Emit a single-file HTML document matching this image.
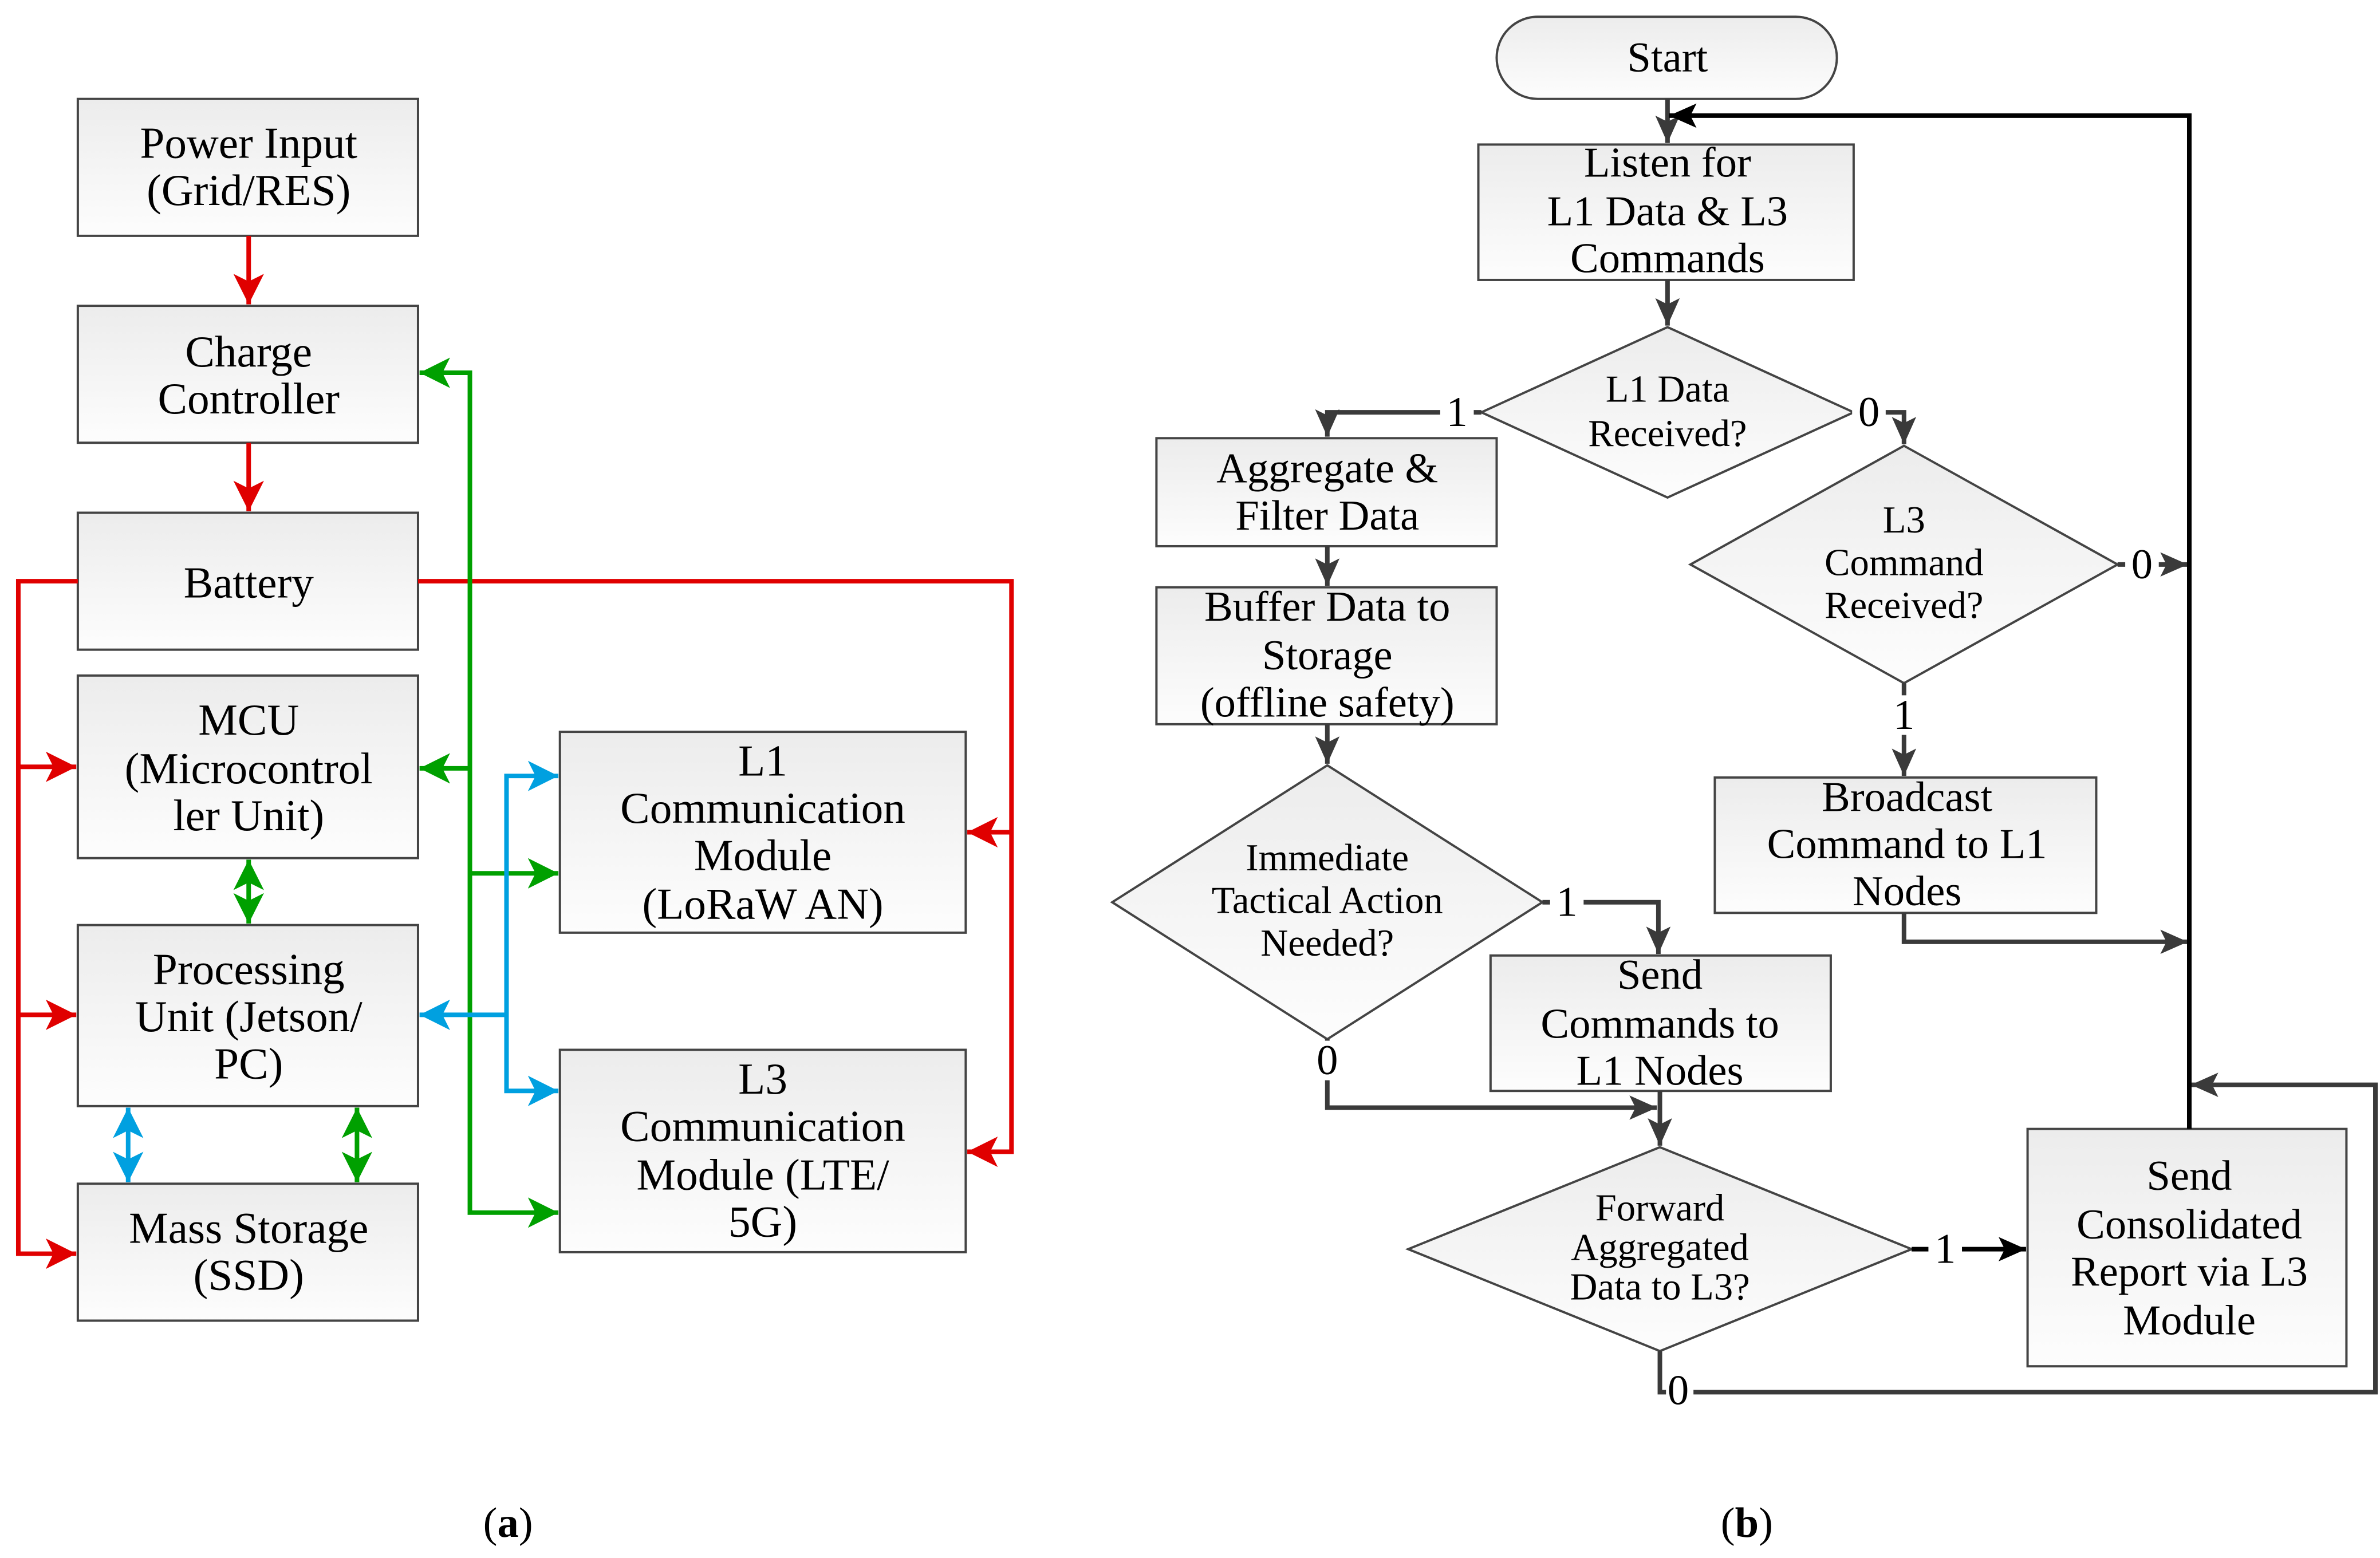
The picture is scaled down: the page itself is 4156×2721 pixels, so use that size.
<!DOCTYPE html>
<html><head><meta charset="utf-8"><style>
html,body{margin:0;padding:0;background:#fff;}
svg{display:block;}
svg text{font-family:"Liberation Serif","DejaVu Serif",serif;fill:#000;}
</style></head><body>
<svg width="4156" height="2721" viewBox="0 0 1560 1024" preserveAspectRatio="none" xmlns="http://www.w3.org/2000/svg" font-family="Liberation Serif, serif">
<defs>
<linearGradient id="g" x1="0" y1="0" x2="0" y2="1"><stop offset="0" stop-color="#ececec"/><stop offset="1" stop-color="#fdfdfd"/></linearGradient>
<marker id="r" markerUnits="userSpaceOnUse" markerWidth="24" markerHeight="24" refX="20" refY="12" orient="auto-start-reverse"><path d="M0,2 L20,12 L0,22 L5,12 Z" fill="#e00000"/></marker>
<marker id="gr" markerUnits="userSpaceOnUse" markerWidth="24" markerHeight="24" refX="20" refY="12" orient="auto-start-reverse"><path d="M0,2 L20,12 L0,22 L5,12 Z" fill="#00a000"/></marker>
<marker id="b" markerUnits="userSpaceOnUse" markerWidth="24" markerHeight="24" refX="20" refY="12" orient="auto-start-reverse"><path d="M0,2 L20,12 L0,22 L5,12 Z" fill="#00a0e0"/></marker>
<marker id="k" markerUnits="userSpaceOnUse" markerWidth="24" markerHeight="24" refX="18" refY="10" orient="auto-start-reverse"><path d="M0,2 L18,10 L0,18 L4,10 Z" fill="#3a3a3a"/></marker>
<marker id="kk" markerUnits="userSpaceOnUse" markerWidth="24" markerHeight="24" refX="18" refY="10" orient="auto-start-reverse"><path d="M0,2 L18,10 L0,18 L4,10 Z" fill="#000"/></marker>
</defs>

<g stroke="#444" stroke-width="1.5" fill="url(#g)">
<rect x="51" y="65" width="223" height="90"/>
<rect x="51" y="201" width="223" height="90"/>
<rect x="51" y="337" width="223" height="90"/>
<rect x="51" y="444" width="223" height="120"/>
<rect x="51" y="608" width="223" height="119"/>
<rect x="51" y="778" width="223" height="90"/>
<rect x="367" y="481" width="266" height="132"/>
<rect x="367" y="690" width="266" height="133"/>
</g>

<g fill="none" stroke-width="3">
<line x1="163" y1="155" x2="163" y2="200" stroke="#e00000" marker-end="url(#r)"/>
<line x1="163" y1="291" x2="163" y2="336" stroke="#e00000" marker-end="url(#r)"/>
<polyline points="51,382 12,382 12,824 50,824" stroke="#e00000" marker-end="url(#r)"/>
<line x1="12" y1="504" x2="50" y2="504" stroke="#e00000" marker-end="url(#r)"/>
<line x1="12" y1="667" x2="50" y2="667" stroke="#e00000" marker-end="url(#r)"/>
<polyline points="274,382 663,382 663,757 634,757" stroke="#e00000" marker-end="url(#r)"/>
<line x1="663" y1="547" x2="634" y2="547" stroke="#e00000" marker-end="url(#r)"/>

<polyline points="275,245 308,245 308,797 366,797" stroke="#00a000" marker-start="url(#gr)" marker-end="url(#gr)"/>
<line x1="308" y1="505" x2="275" y2="505" stroke="#00a000" marker-end="url(#gr)"/>
<line x1="308" y1="574" x2="366" y2="574" stroke="#00a000" marker-end="url(#gr)"/>
<line x1="163" y1="565" x2="163" y2="607" stroke="#00a000" marker-start="url(#gr)" marker-end="url(#gr)"/>
<line x1="234" y1="728" x2="234" y2="777" stroke="#00a000" marker-start="url(#gr)" marker-end="url(#gr)"/>

<polyline points="366,510 332,510 332,717 366,717" stroke="#00a0e0" marker-start="url(#b)" marker-end="url(#b)"/>
<line x1="332" y1="667" x2="275" y2="667" stroke="#00a0e0" marker-end="url(#b)"/>
<line x1="84" y1="728" x2="84" y2="777" stroke="#00a0e0" marker-start="url(#b)" marker-end="url(#b)"/>
</g>

<g font-size="29" text-anchor="middle" dominant-baseline="central">
<text x="163" y="94">Power Input</text><text x="163" y="125">(Grid/RES)</text>
<text x="163" y="231">Charge</text><text x="163" y="262">Controller</text>
<text x="163" y="383">Battery</text>
<text x="163" y="473">MCU</text><text x="163" y="505">(Microcontrol</text><text x="163" y="536">ler Unit)</text>
<text x="163" y="637">Processing</text><text x="163" y="668">Unit (Jetson/</text><text x="163" y="699">PC)</text>
<text x="163" y="807">Mass Storage</text><text x="163" y="838">(SSD)</text>
<text x="500" y="500">L1</text><text x="500" y="531">Communication</text><text x="500" y="562">Module</text><text x="500" y="594">(LoRaW AN)</text>
<text x="500" y="709">L3</text><text x="500" y="740">Communication</text><text x="500" y="772">Module (LTE/</text><text x="500" y="803">5G)</text>
</g>

<g stroke="#444" stroke-width="1.5" fill="url(#g)">
<rect x="981" y="11" width="223" height="54" rx="27"/>
<rect x="969" y="95" width="246" height="89"/>
<polygon points="1093,215 1215,271 1093,327 971,271"/>
<rect x="758" y="288" width="223" height="71"/>
<rect x="758" y="386" width="223" height="90"/>
<polygon points="870,503 1011,593 870,683 729,593"/>
<rect x="977" y="628" width="223" height="89"/>
<polygon points="1088,754 1253,821 1088,888 923,821"/>
<rect x="1329" y="742" width="209" height="156"/>
<polygon points="1248,293 1388,371 1248,449 1108,371"/>
<rect x="1124" y="511" width="250" height="89"/>
</g>

<g fill="none" stroke="#3a3a3a" stroke-width="3">
<line x1="1093" y1="65" x2="1093" y2="94" marker-end="url(#k)"/>
<line x1="1093" y1="184" x2="1093" y2="214" marker-end="url(#k)"/>
<polyline points="971,271 870,271 870,287" marker-end="url(#k)"/>
<line x1="870" y1="359" x2="870" y2="385" marker-end="url(#k)"/>
<line x1="870" y1="476" x2="870" y2="502" marker-end="url(#k)"/>
<polyline points="1011,593 1087,593 1087,627" marker-end="url(#k)"/>
<polyline points="870,683 870,728 1086,728" marker-end="url(#k)"/>
<line x1="1088" y1="717" x2="1088" y2="753" marker-end="url(#k)"/>
<polyline points="1088,888 1088,915 1557,915 1557,713 1436,713" marker-end="url(#k)"/>
<polyline points="1215,271 1248,271 1248,292" marker-end="url(#k)"/>
<line x1="1388" y1="371" x2="1434" y2="371" marker-end="url(#k)"/>
<line x1="1248" y1="449" x2="1248" y2="510" marker-end="url(#k)"/>
<polyline points="1248,600 1248,619 1434,619" marker-end="url(#k)"/>
</g>
<g fill="none" stroke="#000" stroke-width="3">
<polyline points="1435,742 1435,76 1094,76" marker-end="url(#kk)"/>
<line x1="1253" y1="821" x2="1328" y2="821" marker-end="url(#kk)"/>
</g>

<g font-size="28" text-anchor="middle" dominant-baseline="central">
<rect x="944" y="258" width="22" height="26" fill="#fff"/><text x="955" y="271">1</text>
<rect x="1214" y="258" width="22" height="26" fill="#fff"/><text x="1225" y="271">0</text>
<rect x="1393" y="358" width="22" height="26" fill="#fff"/><text x="1404" y="371">0</text>
<rect x="1237" y="457" width="22" height="26" fill="#fff"/><text x="1248" y="470">1</text>
<rect x="1016" y="580" width="22" height="26" fill="#fff"/><text x="1027" y="593">1</text>
<rect x="859" y="684" width="22" height="26" fill="#fff"/><text x="870" y="697">0</text>
<rect x="1264" y="808" width="22" height="26" fill="#fff"/><text x="1275" y="821">1</text>
<rect x="1092" y="906" width="18" height="20" fill="#fff"/><text x="1100" y="914">0</text>

<text x="1093" y="38">Start</text>
<text x="1093" y="107">Listen for</text><text x="1093" y="139">L1 Data &amp; L3</text><text x="1093" y="170">Commands</text>
<text x="870" y="308">Aggregate &amp;</text><text x="870" y="339">Filter Data</text>
<text x="870" y="399">Buffer Data to</text><text x="870" y="431">Storage</text><text x="870" y="462">(offline safety)</text>
<text x="1088" y="641">Send</text><text x="1088" y="673">Commands to</text><text x="1088" y="704">L1 Nodes</text>
<text x="1435" y="773">Send</text><text x="1435" y="805">Consolidated</text><text x="1435" y="836">Report via L3</text><text x="1435" y="868">Module</text>
<text x="1250" y="524">Broadcast</text><text x="1250" y="555">Command to L1</text><text x="1250" y="586">Nodes</text>
</g>
<g font-size="25" text-anchor="middle" dominant-baseline="central">
<text x="1093" y="256">L1 Data</text><text x="1093" y="285">Received?</text>
<text x="870" y="564">Immediate</text><text x="870" y="592">Tactical Action</text><text x="870" y="620">Needed?</text>
<text x="1088" y="794">Forward</text><text x="1088" y="820">Aggregated</text><text x="1088" y="846">Data to L3?</text>
<text x="1248" y="342">L3</text><text x="1248" y="370">Command</text><text x="1248" y="398">Received?</text>
</g>
<g font-size="28" text-anchor="middle" dominant-baseline="central">
<text x="333" y="1001">(<tspan font-weight="bold">a</tspan>)</text>
<text x="1145" y="1001">(<tspan font-weight="bold">b</tspan>)</text>
</g>
</svg>
</body></html>
